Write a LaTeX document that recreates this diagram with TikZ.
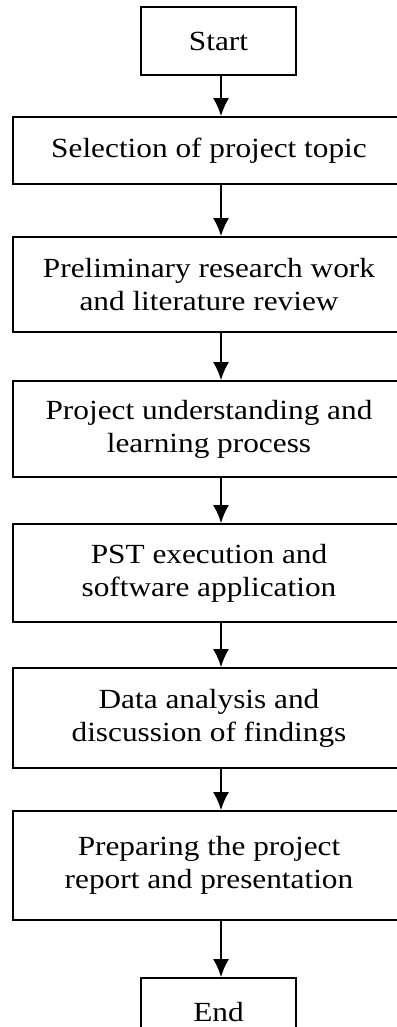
\documentclass[tikz,border=0pt]{standalone}
\usepackage{fontspec}
\setmainfont{Liberation Serif}[FakeStretch=1.13]
\usetikzlibrary{arrows.meta}
\begin{document}
\begin{tikzpicture}[x=1pt,y=-1pt,
	box/.style={draw,line width=1.7pt,inner sep=0pt,align=center,font=\fontsize{27.7}{33}\selectfont},
	wide/.style={box,minimum width=392pt},
	flow/.style={line width=2pt,-{Latex[length=18pt,width=16pt]}}]
		\useasboundingbox (0,0) rectangle (396,1027);
		\coordinate (ax) at (221,0);
		\node [box,minimum width=155pt,minimum height=68pt] (start) at (218.5,41) {Start};
		\node [wide,minimum height=67pt] (sel) at (209,150.5) {Selection of project topic};
		\node [wide,minimum height=95pt] (prelim) at (209,284.5) {Preliminary research work\\and literature review};
		\node [wide,minimum height=96pt] (learn) at (209,429) {Project understanding and\\learning process};
		\node [wide,minimum height=98pt] (pst) at (209,573) {PST execution and\\software application};
		\node [wide,minimum height=100pt] (data) at (209,718) {Data analysis and\\discussion of findings};
		\node [wide,minimum height=109pt] (report) at (209,865.5) {Preparing the project\\report and presentation};
		\node [box,minimum width=155pt,minimum height=68pt] (finish) at (218.5,1012) {End};
		\draw [flow] (start.south -| ax) -- (sel.north -| ax);
		\draw [flow] (sel.south -| ax) -- (prelim.north -| ax);
		\draw [flow] (prelim.south -| ax) -- (learn.north -| ax);
		\draw [flow] (learn.south -| ax) -- (pst.north -| ax);
		\draw [flow] (pst.south -| ax) -- (data.north -| ax);
		\draw [flow] (data.south -| ax) -- (report.north -| ax);
		\draw [flow] (report.south -| ax) -- (finish.north -| ax);
\end{tikzpicture}
\end{document}
